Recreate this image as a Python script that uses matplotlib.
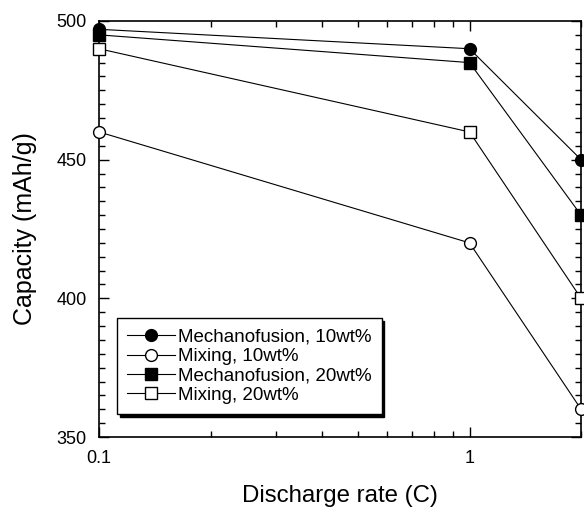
import numpy as np
import matplotlib
matplotlib.use("Agg")
import matplotlib.pyplot as plt
from matplotlib.ticker import MultipleLocator, FixedLocator, FixedFormatter, NullFormatter

plt.rcParams['font.family'] = ['Liberation Sans', 'DejaVu Sans']

# discharge rates (C) and capacities (mAh/g)
rates = [0.1, 1, 2]
mech_10 = [497, 490, 450]
mix_10 = [460, 420, 360]
mech_20 = [495, 485, 430]
mix_20 = [490, 460, 400]

labels = ['Mechanofusion, 10wt%', 'Mixing, 10wt%',
          'Mechanofusion, 20wt%', 'Mixing, 20wt%']

fig = plt.figure(figsize=(5.84, 5.07), dpi=100)
ax = fig.add_axes([0.1695, 0.138, 0.8255, 0.8206])

styles = [('o', 'black'), ('o', 'white'), ('s', 'black'), ('s', 'white')]
for vals, lab, (m, fc) in zip([mech_10, mix_10, mech_20, mix_20], labels, styles):
    ax.plot(rates, vals, color='black', lw=0.8, marker=m, ms=8.5 if m == 'o' else 8,
            mfc=fc, mec='black', mew=1.0, label=lab, clip_on=False, zorder=3)

ax.set_xscale('log')
ax.set_xlim(0.1, 2)
ax.set_ylim(350, 500)
ax.xaxis.set_major_locator(FixedLocator([0.1, 1]))
ax.xaxis.set_minor_locator(FixedLocator([0.2, 0.3, 0.4, 0.5, 0.6, 0.7, 0.8, 0.9, 2]))
ax.xaxis.set_major_formatter(FixedFormatter(['0.1', '1']))
ax.xaxis.set_minor_formatter(NullFormatter())
ax.yaxis.set_major_locator(MultipleLocator(50))
ax.yaxis.set_minor_locator(MultipleLocator(5))

ax.tick_params(which='both', direction='in', top=True, right=True, labelsize=13, colors='black')
ax.tick_params(which='major', length=7, width=1)
ax.tick_params(which='minor', length=4.5, width=1)
ax.tick_params(axis='x', pad=9)
ax.tick_params(axis='y', pad=9)
for sp in ax.spines.values():
    sp.set_linewidth(1.2)

ax.set_xlabel('Discharge rate (C)', fontsize=17.3, labelpad=13)
ax.set_ylabel('Capacity (mAh/g)', fontsize=18, labelpad=14)

leg = ax.legend(loc='lower left', bbox_to_anchor=(0.037, 0.055), fontsize=13.5,
                frameon=True, fancybox=False, edgecolor='black', framealpha=1,
                shadow={'color': 'black', 'alpha': 1}, handlelength=2.55,
                handletextpad=0.15, labelspacing=0.12, borderpad=0.55, borderaxespad=0)
leg.get_frame().set_linewidth(1.0)

fig.savefig('out.png', dpi=100)
